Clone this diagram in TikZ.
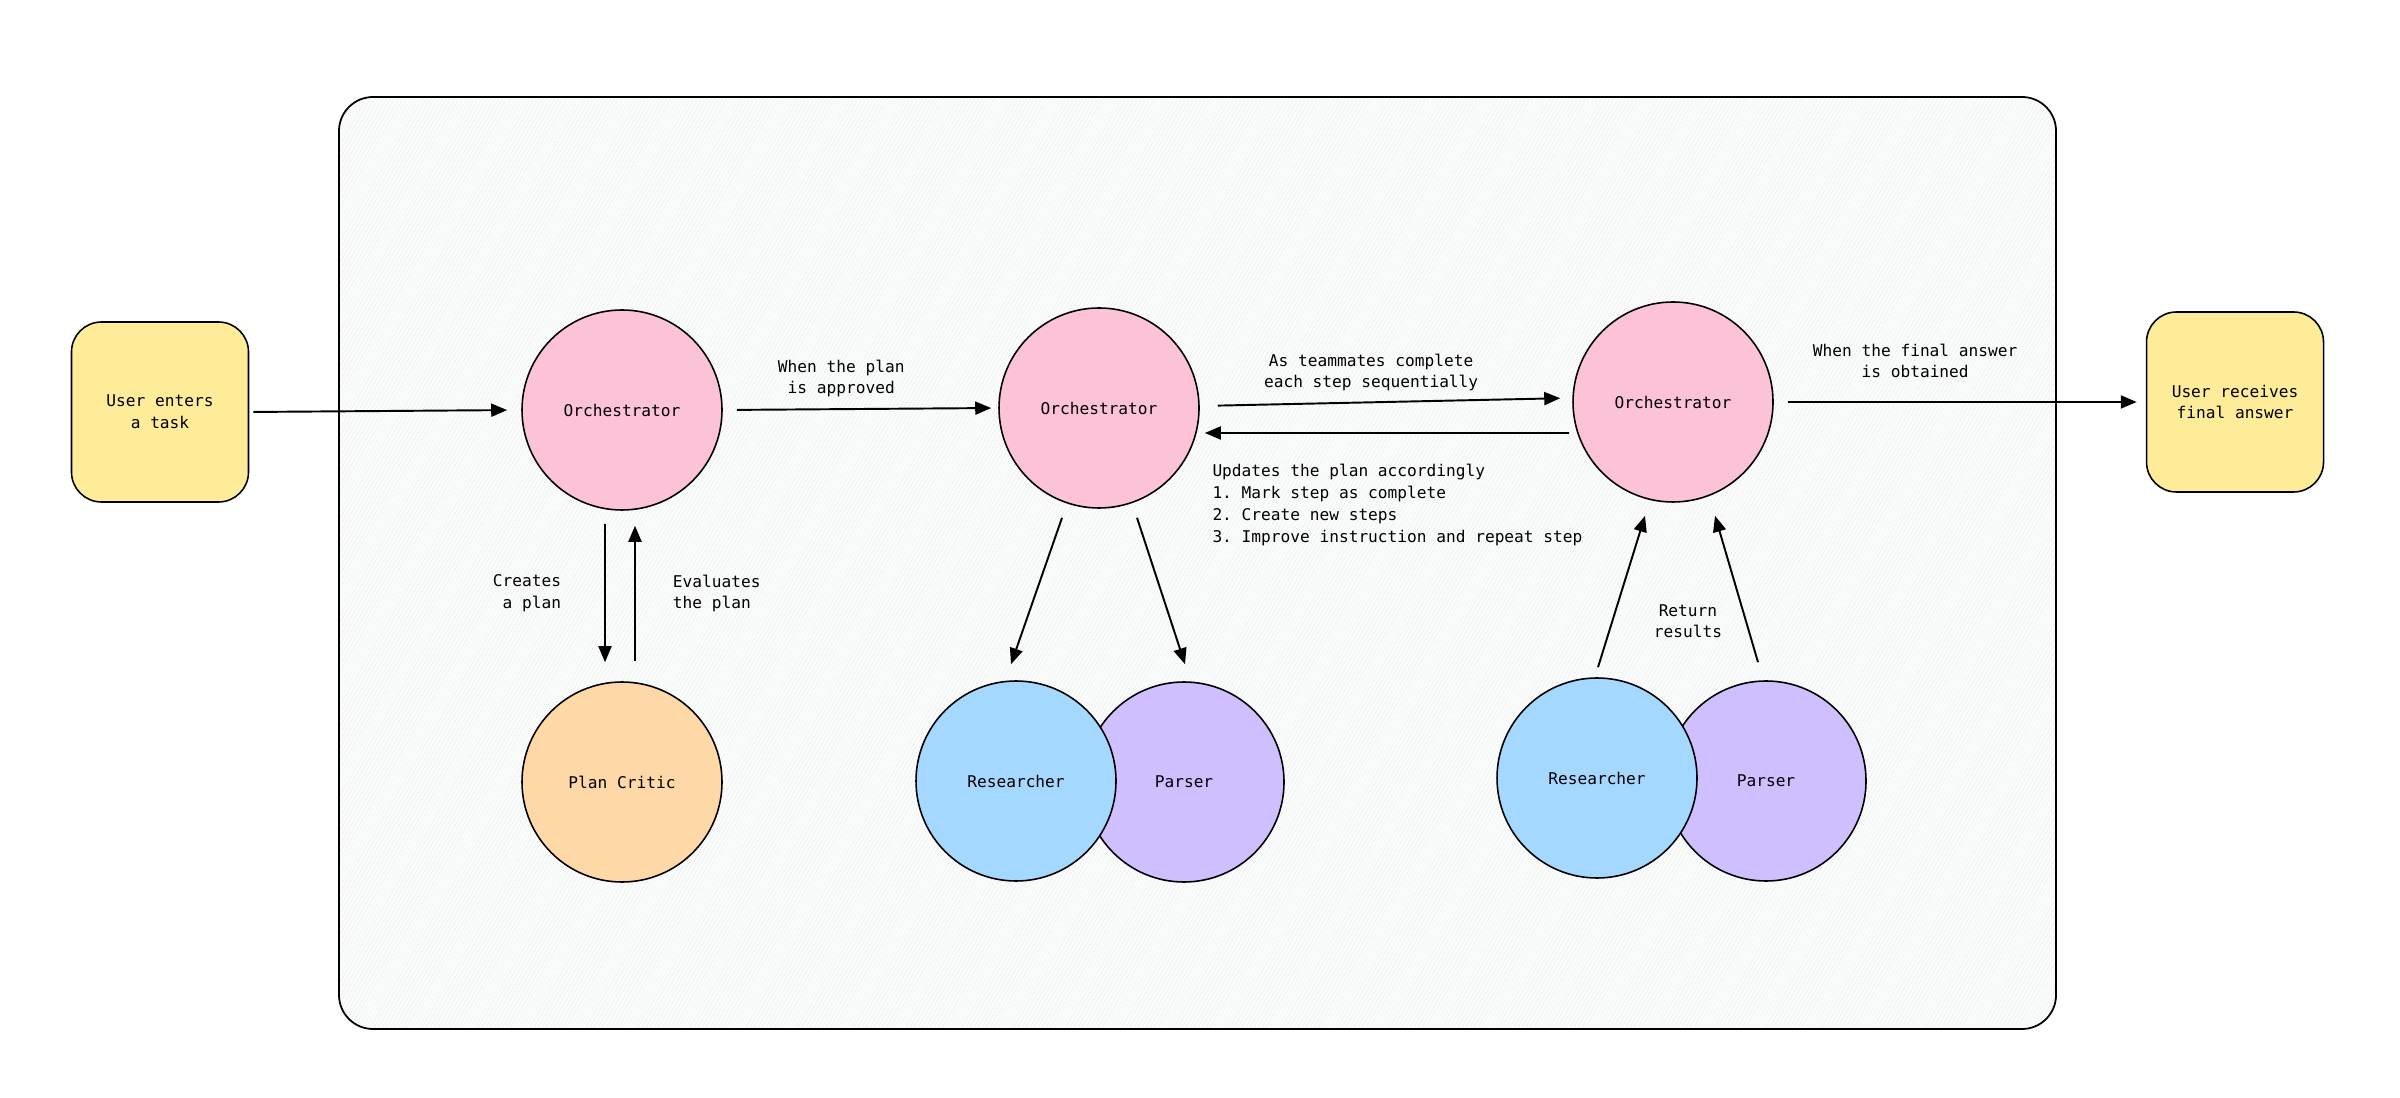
\documentclass[tikz,border=0pt]{standalone}
\usepackage{fontspec}
\setmonofont{DejaVu Sans Mono}
\usetikzlibrary{arrows.meta, positioning, patterns.meta}
\definecolor{orchpink}{HTML}{FCC2D7}
\definecolor{criticorange}{HTML}{FFD8A8}
\definecolor{researchblue}{HTML}{A5D8FF}
\definecolor{parserviolet}{HTML}{D0BFFF}
\definecolor{useryellow}{HTML}{FFEC99}
\definecolor{framegray}{HTML}{FAFBFB}
\tikzset{every node/.style={align=center}, >={Triangle[length=1.6mm,width=1.3mm]}, font=\ttfamily\fontsize{4.6}{6.17}\selectfont}

\begin{document}
\begin{tikzpicture}[node distance=4.7cm,
    agent/.style={circle, draw, line width=0.45pt, minimum size=2cm, inner sep=0pt},
    userbox/.style={rectangle, draw, line width=0.45pt, rounded corners=3mm, fill=useryellow, minimum width=1.77cm, minimum height=1.8cm},
    arr/.style={->, line width=0.55pt},
    lbl/.style={inner sep=0pt}]
             \useasboundingbox (0,0) rectangle (24,-10.98);
             % team frame
             \fill[framegray, rounded corners=0.34cm] (3.39,-0.97) rectangle (20.56,-10.29);
             \path[pattern={Lines[angle=60,distance=0.9pt,line width=0.1pt]}, pattern color=gray!14, rounded corners=0.34cm] (3.39,-0.97) rectangle (20.56,-10.29);
             \draw[line width=0.5pt, rounded corners=0.34cm] (3.39,-0.97) rectangle (20.56,-10.29);

             \node [userbox] (u0) at (1.60,-4.12) {User enters\\a task};
             \node [agent, fill=orchpink] (o1) [right of=u0, xshift=-0.08cm, yshift=0.02cm] {Orchestrator};
             \node [agent, fill=orchpink] (o2) [right of=o1, xshift=0.07cm, yshift=0.02cm] {Orchestrator};
             \node [agent, fill=orchpink] (o3) [right of=o2, xshift=1.04cm, yshift=0.06cm] {Orchestrator};
             \node [userbox] (u1) [right of=o3, xshift=0.92cm] {User receives\\final answer};
             \node [agent, fill=criticorange] (pc) [below of=o1, node distance=3.72cm] {Plan Critic};
             \node [agent, fill=parserviolet] (p1) [below of=o2, node distance=3.74cm, xshift=0.85cm] {Parser};
             \node [agent, fill=researchblue] (r1) [left of=p1, node distance=1.68cm, yshift=0.01cm] {Researcher};
             \node [agent, fill=parserviolet] (p2) [below of=o3, node distance=3.79cm, xshift=0.93cm] {Parser};
             \node [agent, fill=researchblue] (r2) [left of=p2, node distance=1.69cm, yshift=0.03cm] {Researcher};

             \path[arr] (u0.east) edge [shorten <=0.04cm, shorten >=0.14cm] (o1.west)
                (o1.east) edge [shorten <=0.14cm, shorten >=0.07cm] node [lbl, pos=0.43, above=0.11cm] {When the plan\\is approved} (o2.west)
                ([yshift=0.02cm]o2.east) edge [shorten <=0.18cm, shorten >=0.12cm] node [lbl, pos=0.46, above=0.1cm] {As teammates complete\\each step sequentially} ([yshift=0.04cm]o3.west)
                ([yshift=-0.31cm]o3.west) edge [shorten <=0.03cm, shorten >=0.05cm] ([yshift=-0.25cm]o2.east)
                (o3.east) edge [shorten <=0.14cm, shorten >=0.09cm] node [lbl, pos=0.38, above=0.23cm] {When the final answer\\is obtained} (u1.west);

             \node [lbl, align=left, anchor=west] (upd) at ([xshift=0.12cm, yshift=-0.97cm]o2.east) {Updates the plan accordingly\\1. Mark step as complete\\2. Create new steps\\3. Improve instruction and repeat step};

             % plan critic loop
             \draw[arr] ([xshift=-0.17cm, yshift=-0.13cm]o1.south) -- node [lbl, midway, left=0.43cm, align=right] {Creates\\a plan} ([xshift=-0.17cm, yshift=0.19cm]pc.north);
             \draw[arr] ([xshift=0.13cm, yshift=0.2cm]pc.north) -- node [lbl, midway, right=0.37cm, align=left] {Evaluates\\the plan} ([xshift=0.13cm, yshift=-0.15cm]o1.south);

             % orchestrator hands out steps
             \draw[arr] ([xshift=-0.37cm, yshift=-0.09cm]o2.south) -- ([xshift=-0.05cm, yshift=0.16cm]r1.north);
             \draw[arr] ([xshift=0.38cm, yshift=-0.09cm]o2.south) -- ([xshift=0.01cm, yshift=0.17cm]p1.north);

             % results come back
             \draw[arr] ([xshift=0.01cm, yshift=0.1cm]r2.north) -- ([xshift=-0.28cm, yshift=-0.13cm]o3.south);
             \draw[arr] ([xshift=-0.08cm, yshift=0.18cm]p2.north) -- node [lbl, pos=0.28, left=0.23cm] {Return\\results} ([xshift=0.42cm, yshift=-0.13cm]o3.south);
         \end{tikzpicture}
\end{document}
